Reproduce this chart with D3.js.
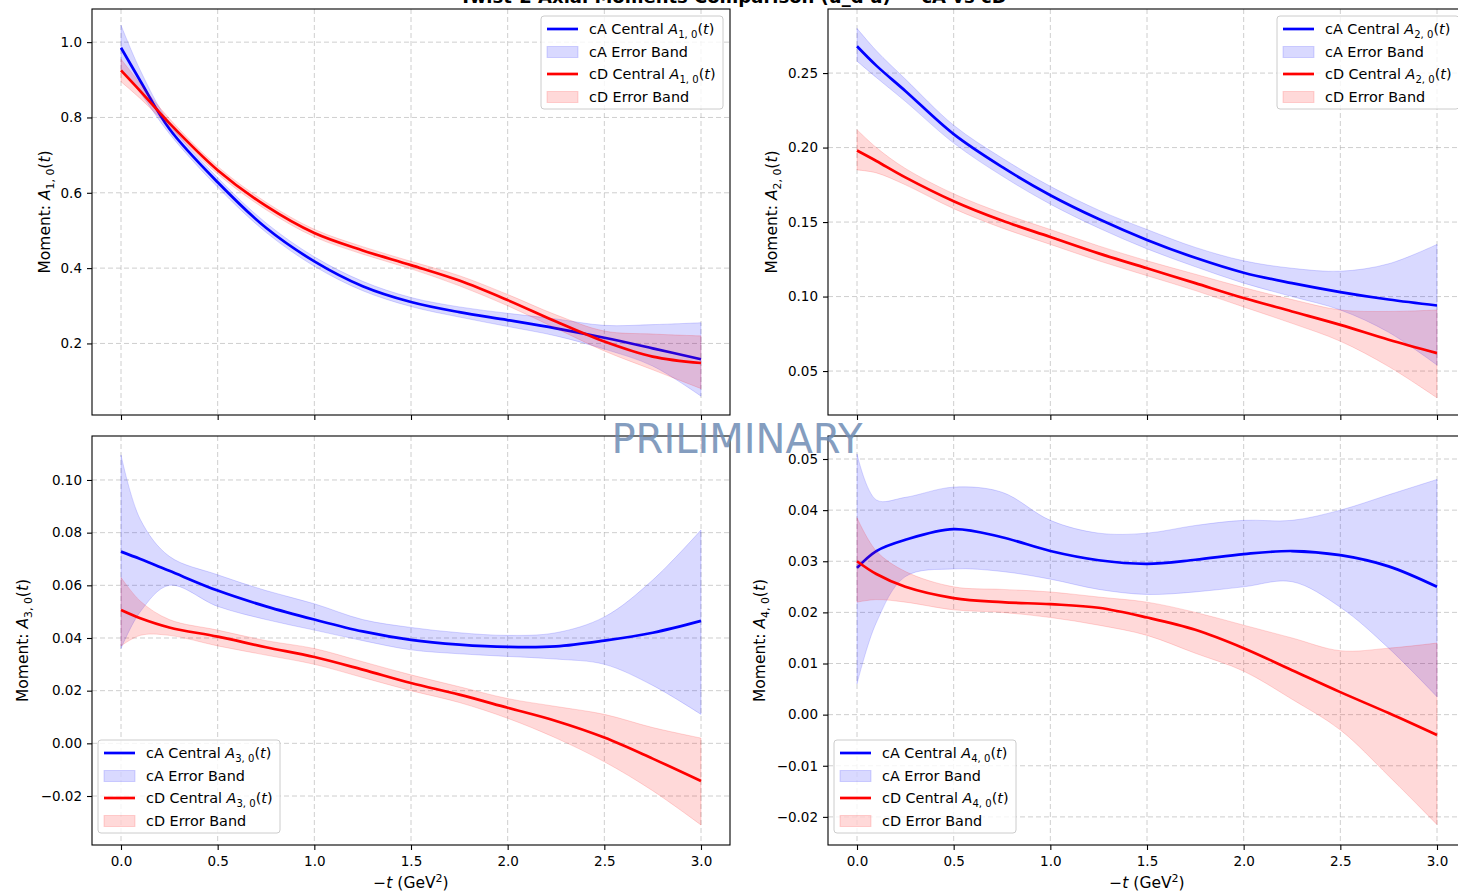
<!DOCTYPE html>
<html>
<head>
<meta charset="utf-8">
<script src="https://cdn.jsdelivr.net/npm/d3@7"></script>
<style>
  body { margin: 0; background: #fff; }
  svg { font-family: "DejaVu Sans", sans-serif; }
</style>
</head>
<body>
<svg width="1458" height="893"></svg>
<script>
// sample points in -t (GeV^2)
var tVals = [0, 0.1, 0.25, 0.5, 0.75, 1.0, 1.25, 1.5, 1.75, 2.0, 2.25, 2.5, 2.75, 3.0];
var xTicks = [0, 0.5, 1.0, 1.5, 2.0, 2.5, 3.0];

// A_{1,0}
var a1cA   = [0.985, 0.897, 0.77, 0.628, 0.507, 0.418, 0.352, 0.31, 0.283, 0.262, 0.24, 0.215, 0.187, 0.158];
var a1cALo = [0.93, 0.865, 0.757, 0.615, 0.495, 0.405, 0.34, 0.298, 0.27, 0.245, 0.22, 0.185, 0.14, 0.06];
var a1cAHi = [1.045, 0.925, 0.785, 0.64, 0.52, 0.43, 0.365, 0.322, 0.297, 0.28, 0.265, 0.248, 0.25, 0.255];
var a1cD   = [0.925, 0.87, 0.785, 0.66, 0.565, 0.493, 0.447, 0.408, 0.367, 0.315, 0.258, 0.205, 0.165, 0.148];
var a1cDLo = [0.895, 0.85, 0.775, 0.65, 0.555, 0.483, 0.437, 0.398, 0.353, 0.3, 0.24, 0.18, 0.13, 0.08];
var a1cDHi = [0.955, 0.89, 0.797, 0.67, 0.575, 0.503, 0.457, 0.418, 0.38, 0.33, 0.276, 0.233, 0.225, 0.22];

// A_{2,0}
var a2cA   = [0.268, 0.255, 0.238, 0.209, 0.187, 0.168, 0.152, 0.138, 0.126, 0.116, 0.109, 0.103, 0.098, 0.094];
var a2cALo = [0.258, 0.247, 0.231, 0.203, 0.181, 0.162, 0.146, 0.132, 0.12, 0.109, 0.1, 0.091, 0.076, 0.054];
var a2cAHi = [0.28, 0.265, 0.246, 0.215, 0.193, 0.174, 0.158, 0.145, 0.133, 0.124, 0.119, 0.117, 0.122, 0.135];
var a2cD   = [0.198, 0.191, 0.18, 0.164, 0.151, 0.14, 0.129, 0.119, 0.109, 0.099, 0.09, 0.081, 0.071, 0.062];
var a2cDLo = [0.185, 0.183, 0.175, 0.159, 0.146, 0.135, 0.124, 0.114, 0.104, 0.093, 0.082, 0.07, 0.053, 0.032];
var a2cDHi = [0.212, 0.2, 0.186, 0.169, 0.156, 0.145, 0.134, 0.124, 0.115, 0.106, 0.098, 0.091, 0.09, 0.091];

// A_{3,0}
var a3cA   = [0.0728, 0.07, 0.0655, 0.058, 0.052, 0.047, 0.0425, 0.0393, 0.0375, 0.0366, 0.0368, 0.039, 0.042, 0.0465];
var a3cALo = [0.036, 0.05, 0.06, 0.052, 0.047, 0.043, 0.039, 0.0355, 0.034, 0.033, 0.032, 0.03, 0.022, 0.011];
var a3cAHi = [0.1095, 0.085, 0.071, 0.064, 0.058, 0.053, 0.047, 0.044, 0.042, 0.041, 0.042, 0.048, 0.062, 0.081];
var a3cD   = [0.0506, 0.0475, 0.044, 0.0405, 0.0365, 0.0328, 0.028, 0.0229, 0.0185, 0.0135, 0.0085, 0.0022, -0.0058, -0.0143];
var a3cDLo = [0.037, 0.041, 0.041, 0.037, 0.0335, 0.03, 0.025, 0.02, 0.0155, 0.0095, 0.002, -0.007, -0.018, -0.031];
var a3cDHi = [0.063, 0.054, 0.047, 0.043, 0.039, 0.036, 0.031, 0.026, 0.0215, 0.017, 0.014, 0.011, 0.006, 0.002];

// A_{4,0}
var a4cA   = [0.0287, 0.032, 0.0342, 0.0363, 0.0347, 0.032, 0.0302, 0.0295, 0.0303, 0.0314, 0.032, 0.0312, 0.029, 0.025];
var a4cALo = [0.006, 0.018, 0.027, 0.0285, 0.028, 0.0265, 0.0245, 0.0235, 0.024, 0.025, 0.026, 0.021, 0.013, 0.0035];
var a4cAHi = [0.051, 0.042, 0.0425, 0.0445, 0.0435, 0.038, 0.0355, 0.0355, 0.037, 0.038, 0.038, 0.04, 0.043, 0.046];
var a4cD   = [0.03, 0.0275, 0.025, 0.0228, 0.022, 0.0216, 0.0209, 0.019, 0.0166, 0.013, 0.0087, 0.0044, 0.0003, -0.004];
var a4cDLo = [0.022, 0.0225, 0.022, 0.0205, 0.02, 0.019, 0.0175, 0.0155, 0.012, 0.0085, 0.003, -0.003, -0.012, -0.0215];
var a4cDHi = [0.0385, 0.032, 0.028, 0.025, 0.0245, 0.024, 0.023, 0.022, 0.02, 0.0175, 0.015, 0.0125, 0.013, 0.014];

var panels = [
  {sub: "1, 0", box: [92, 9, 730, 415], yDom: [0.01, 1.088], yTicks: [0.2, 0.4, 0.6, 0.8, 1.0], fmt: ".1f", labOff: 42,
   cA: a1cA, cALo: a1cALo, cAHi: a1cAHi, cD: a1cD, cDLo: a1cDLo, cDHi: a1cDHi, legend: "tr", xLabels: false},
  {sub: "2, 0", box: [828, 9, 1466, 415], yDom: [0.0205, 0.293], yTicks: [0.05, 0.10, 0.15, 0.20, 0.25], fmt: ".2f", labOff: 51,
   cA: a2cA, cALo: a2cALo, cAHi: a2cAHi, cD: a2cD, cDLo: a2cDLo, cDHi: a2cDHi, legend: "tr", xLabels: false},
  {sub: "3, 0", box: [92, 436, 730, 845], yDom: [-0.0386, 0.1167], yTicks: [-0.02, 0, 0.02, 0.04, 0.06, 0.08, 0.10], fmt: ".2f", labOff: 64,
   cA: a3cA, cALo: a3cALo, cAHi: a3cAHi, cD: a3cD, cDLo: a3cDLo, cDHi: a3cDHi, legend: "bl", xLabels: true},
  {sub: "4, 0", box: [828, 436, 1466, 845], yDom: [-0.0255, 0.0545], yTicks: [-0.02, -0.01, 0, 0.01, 0.02, 0.03, 0.04, 0.05], fmt: ".2f", labOff: 63,
   cA: a4cA, cALo: a4cALo, cAHi: a4cAHi, cD: a4cD, cDLo: a4cDLo, cDHi: a4cDHi, legend: "bl", xLabels: true}
];

var svg = d3.select("svg");

// title, clipped off at the top in the original
svg.append("text")
  .attr("x", 733).attr("y", 3)
  .attr("text-anchor", "middle")
  .style("font-size", "18px").style("font-weight", "bold")
  .text("Twist-2 Axial Moments Comparison (u_d u) \u2014 cA vs cD");

// writes label with math-style A_{sub}(t)
function mathLabel(sel, prefix, sub, fs) {
  sel.append("tspan").text(prefix);
  sel.append("tspan").style("font-style", "italic").text("A");
  sel.append("tspan").attr("dy", fs * 0.25).style("font-size", (fs * 0.7) + "px").text(sub);
  sel.append("tspan").attr("dy", -fs * 0.25).text("(");
  sel.append("tspan").style("font-style", "italic").text("t");
  sel.append("tspan").text(")");
}

function minusFmt(f) {
  var g = d3.format(f);
  return function(d) { return g(d).replace("-", "\u2212"); };
}

var curve = d3.curveCatmullRom.alpha(0.5);

panels.forEach(function(p) {
  var x0 = p.box[0], y0 = p.box[1], x1 = p.box[2], y1 = p.box[3];
  var x = d3.scaleLinear().domain([-0.15, 3.15]).range([x0, x1]);
  var y = d3.scaleLinear().domain(p.yDom).range([y1, y0]);
  var g = svg.append("g");

  // grid
  g.selectAll(".gx").data(xTicks).enter().append("line")
    .attr("x1", function(d) { return x(d); }).attr("x2", function(d) { return x(d); })
    .attr("y1", y0).attr("y2", y1)
    .style("stroke", "#b0b0b0").style("stroke-width", 1).style("stroke-dasharray", "5,3").style("opacity", 0.6);
  g.selectAll(".gy").data(p.yTicks).enter().append("line")
    .attr("x1", x0).attr("x2", x1)
    .attr("y1", function(d) { return y(d); }).attr("y2", function(d) { return y(d); })
    .style("stroke", "#b0b0b0").style("stroke-width", 1).style("stroke-dasharray", "5,3").style("opacity", 0.6);

  var idx = d3.range(tVals.length);
  function band(lo, hi) {
    return d3.area().curve(curve)
      .x(function(i) { return x(tVals[i]); })
      .y0(function(i) { return y(lo[i]); })
      .y1(function(i) { return y(hi[i]); })(idx);
  }
  function line(v) {
    return d3.line().curve(curve)
      .x(function(i) { return x(tVals[i]); })
      .y(function(i) { return y(v[i]); })(idx);
  }

  g.append("path").attr("d", band(p.cALo, p.cAHi))
    .style("fill", "rgba(0,0,255,0.15)").style("stroke", "rgba(0,0,255,0.15)");
  g.append("path").attr("d", line(p.cA))
    .style("fill", "none").style("stroke", "#0000ff").style("stroke-width", 2.7);
  g.append("path").attr("d", band(p.cDLo, p.cDHi))
    .style("fill", "rgba(255,0,0,0.15)").style("stroke", "rgba(255,0,0,0.15)");
  g.append("path").attr("d", line(p.cD))
    .style("fill", "none").style("stroke", "#ff0000").style("stroke-width", 2.7);

  // axes
  var xAxis = d3.axisBottom(x).tickValues(xTicks).tickSize(5).tickPadding(6)
    .tickFormat(p.xLabels ? d3.format(".1f") : function() { return ""; });
  var gx = g.append("g").attr("transform", "translate(0," + y1 + ")").call(xAxis);
  var yAxis = d3.axisLeft(y).tickValues(p.yTicks).tickSize(5).tickPadding(5).tickFormat(minusFmt(p.fmt));
  var gy = g.append("g").attr("transform", "translate(" + x0 + ",0)").call(yAxis);
  [gx, gy].forEach(function(a) {
    a.select(".domain").remove();
    a.selectAll("line").style("stroke", "#000").style("stroke-width", 1.1);
    a.selectAll("text").style("font-size", "13.5px").style("fill", "#000")
      .style("font-family", "'DejaVu Sans', sans-serif");
  });

  g.append("rect").attr("x", x0).attr("y", y0).attr("width", x1 - x0).attr("height", y1 - y0)
    .style("fill", "none").style("stroke", "#000").style("stroke-width", 1.1);

  // y label
  var yl = g.append("text")
    .attr("transform", "translate(" + (x0 - p.labOff) + "," + ((y0 + y1) / 2) + ") rotate(-90)")
    .attr("text-anchor", "middle").style("font-size", "15.5px");
  mathLabel(yl, "Moment: ", p.sub, 15.5);

  if (p.xLabels) {
    var xl = g.append("text").attr("x", x(1.5)).attr("y", 888)
      .attr("text-anchor", "middle").style("font-size", "15.5px");
    xl.append("tspan").text("\u2212");
    xl.append("tspan").style("font-style", "italic").text("t");
    xl.append("tspan").text(" (GeV");
    xl.append("tspan").attr("dy", -6).style("font-size", "11px").text("2");
    xl.append("tspan").attr("dy", 6).text(")");
  }

  // legend
  var lw = 182, lh = 93;
  var lx = p.legend === "tr" ? x1 - 189 : x0 + 6;
  var ly = p.legend === "tr" ? y0 + 7 : y1 - 105;
  var lg = g.append("g").attr("transform", "translate(" + lx + "," + ly + ")");
  lg.append("rect").attr("width", lw).attr("height", lh).attr("rx", 3)
    .style("fill", "rgba(255,255,255,0.8)").style("stroke", "#cccccc");
  var items = [
    {kind: "line", color: "#0000ff", pre: "cA Central "},
    {kind: "band", color: "rgba(0,0,255,0.15)", text: "cA Error Band"},
    {kind: "line", color: "#ff0000", pre: "cD Central "},
    {kind: "band", color: "rgba(255,0,0,0.15)", text: "cD Error Band"}
  ];
  items.forEach(function(it, k) {
    var cy = 13 + k * 22.5;
    if (it.kind === "line") {
      lg.append("line").attr("x1", 6).attr("x2", 37).attr("y1", cy).attr("y2", cy)
        .style("stroke", it.color).style("stroke-width", 2.7);
      var t = lg.append("text").attr("x", 48).attr("y", cy + 5).style("font-size", "14.4px");
      mathLabel(t, it.pre, p.sub, 14.4);
    } else {
      lg.append("rect").attr("x", 6).attr("y", cy - 5).attr("width", 31).attr("height", 11)
        .style("fill", it.color).style("stroke", it.color);
      lg.append("text").attr("x", 48).attr("y", cy + 5).style("font-size", "14.4px").text(it.text);
    }
  });
});

// watermark
svg.append("text")
  .attr("x", 737).attr("y", 453)
  .attr("text-anchor", "middle")
  .style("font-size", "40px")
  .style("fill", "#6f8db5").style("opacity", 0.85)
  .text("PRILIMINARY");
</script>
</body>
</html>
